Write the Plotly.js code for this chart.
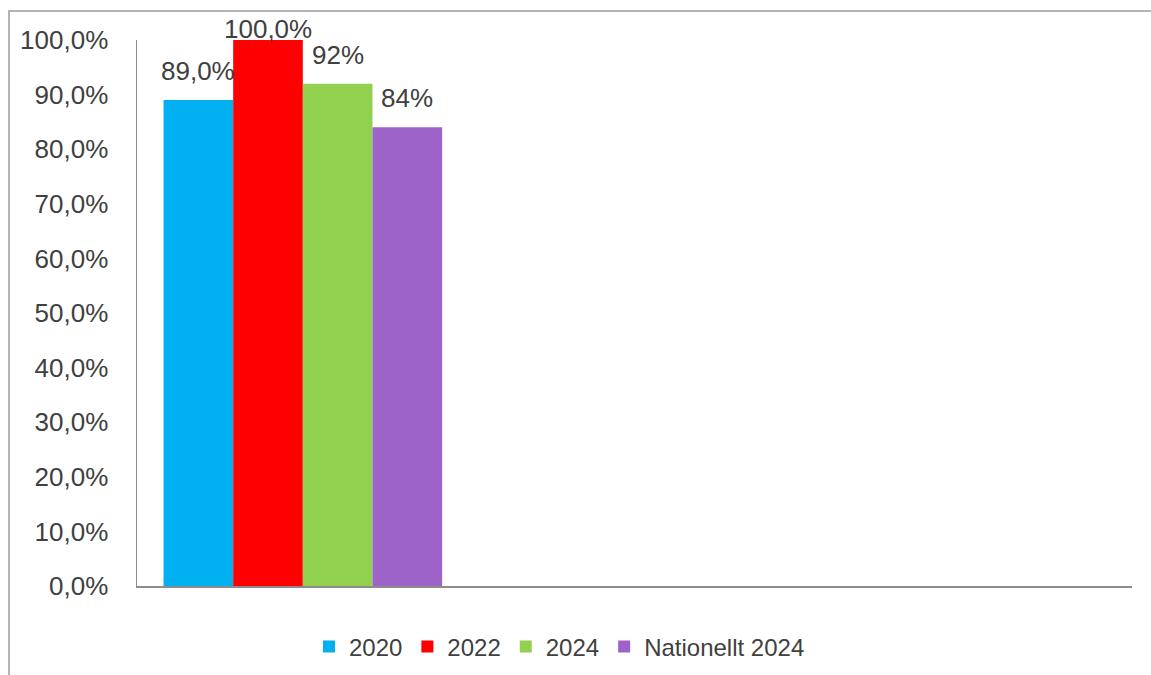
<!DOCTYPE html>
<html>
<head>
<meta charset="utf-8">
<script src="https://cdn.plot.ly/plotly-3.0.1.min.js"></script>
<style>
  html, body { margin: 0; padding: 0; background: #fff; overflow: hidden; }
  #wrap { position: relative; width: 1151px; height: 675px; }
  #chart { width: 1151px; height: 675px; }
  #frame { position: absolute; left: 8px; top: 10px; width: 2000px; height: 2000px;
           border-left: 2px solid #b4b4b4; border-top: 2px solid #b4b4b4; pointer-events: none; }
</style>
</head>
<body>
<div id="wrap">
  <div id="chart"></div>
  <div id="frame"></div>
</div>
<script>
// ---- data ----
const categories = ["Resultat"];
const seriesNames = ["2020", "2022", "2024", "Nationellt 2024"];
const val2020 = [0.89];
const val2022 = [1.00];
const val2024 = [0.92];
const valNat2024 = [0.84];
const labels2020 = ["89,0%"];
const labels2022 = ["100,0%"];
const labels2024 = ["92%"];
const labelsNat2024 = ["84%"];
const yTickValues = [0, 0.1, 0.2, 0.3, 0.4, 0.5, 0.6, 0.7, 0.8, 0.9, 1.0];

// ---- styles ----
const colors = ["#00B0F0", "#FF0000", "#92D050", "#9E63C9"];
const labelShift = [12, -6, 12, 12];
const textColor = "#404040";
const fontFam = "Liberation Sans, Arial, sans-serif";
const bargap = 0.16;

const seriesValues = [val2020, val2022, val2024, valNat2024];
const seriesLabels = [labels2020, labels2022, labels2024, labelsNat2024];

const traces = seriesNames.map((name, i) => ({
  type: "bar",
  name: name,
  x: categories,
  y: seriesValues[i],
  marker: { color: colors[i], line: { width: 0 } },
  hoverinfo: "none"
}));

// data labels placed over each grouped bar via the axis scale
const nSeries = seriesNames.length;
const groupWidth = 1 - bargap;
const annotations = [];
seriesNames.forEach((name, i) => {
  seriesValues[i].forEach((v, c) => {
    annotations.push({
      xref: "x", yref: "y",
      x: c - groupWidth / 2 + groupWidth / nSeries * (i + 0.5),
      y: v,
      text: seriesLabels[i][c],
      showarrow: false,
      yanchor: "bottom",
      xanchor: "center",
      yshift: labelShift[i],
      font: { family: fontFam, size: 26, color: textColor }
    });
  });
});

const layout = {
  width: 1151,
  height: 675,
  margin: { l: 137, r: 19, t: 40, b: 89, autoexpand: false },
  paper_bgcolor: "#ffffff",
  plot_bgcolor: "#ffffff",
  separators: ", ",
  barmode: "group",
  bargap: bargap,
  bargroupgap: 0,
  showlegend: true,
  font: { family: fontFam, color: textColor },
  xaxis: {
    type: "category",
    range: [-0.5, 2.5],
    showticklabels: false,
    ticks: "",
    showgrid: false,
    zeroline: false,
    showline: true,
    linecolor: "#8c8c8c",
    linewidth: 1.5,
    fixedrange: true
  },
  yaxis: {
    range: [0, 1],
    tickvals: yTickValues,
    tickformat: ".1%",
    ticks: "",
    ticklabelstandoff: 22,
    tickfont: { family: fontFam, size: 26, color: textColor },
    showgrid: false,
    zeroline: false,
    showline: true,
    linecolor: "#8c8c8c",
    linewidth: 1.5,
    fixedrange: true
  },
  legend: {
    orientation: "h",
    x: 0.4246,
    xanchor: "center",
    y: -0.1117,
    yanchor: "middle",
    font: { family: fontFam, size: 24, color: textColor },
    itemwidth: 30,
    bgcolor: "rgba(0,0,0,0)"
  },
  annotations: annotations
};

Plotly.newPlot("chart", traces, layout, { displayModeBar: false, staticPlot: true });
</script>
</body>
</html>
